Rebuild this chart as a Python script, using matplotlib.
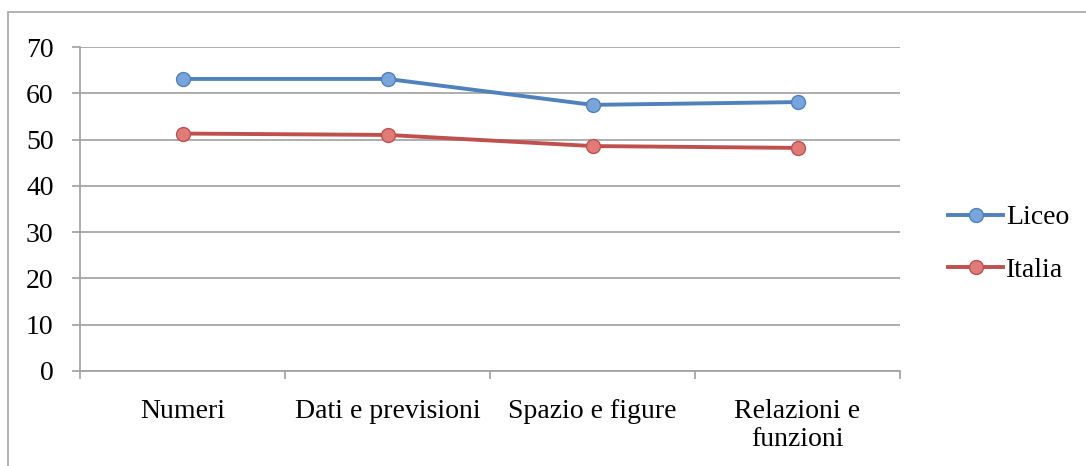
import matplotlib
matplotlib.use("Agg")
import matplotlib.pyplot as plt
from matplotlib.patches import Rectangle
from matplotlib.lines import Line2D

categories = ["Numeri", "Dati e previsioni", "Spazio e figure", "Relazioni e\nfunzioni"]
liceo = [63.1, 63.1, 57.5, 58.1]
italia = [51.3, 51.0, 48.6, 48.2]
yticks = [0, 10, 20, 30, 40, 50, 60, 70]

plt.rcParams['font.family'] = ['Liberation Serif', 'DejaVu Serif']

W, H = 1086, 466
fig = plt.figure(figsize=(W / 100, H / 100), dpi=100)
ax = fig.add_axes([80 / W, 1 - 371 / H, 820 / W, 324 / H])

# outer frame
fig.patches.append(Rectangle((8 / W, -0.1), 1.2, 1 - 12 / H + 0.1, transform=fig.transFigure,
                             fill=False, edgecolor='#A6A6A6', linewidth=1.2))

x = list(range(len(categories)))
blue = '#4F81BD'
red = '#C0504D'
style = dict(lw=2.8, marker='o', ms=10, mew=1, zorder=3)
ax.plot(x, liceo, color=blue, mfc='#79A5DD', mec=blue, **style)
ax.plot(x, italia, color=red, mfc='#E07B78', mec=red, **style)

ax.set_xlim(-0.5, len(categories) - 0.5)
ax.set_ylim(0, 70)
ax.set_yticks(yticks)
ax.set_yticklabels([str(v) for v in yticks], fontsize=20)
ax.yaxis.grid(True, color='#A0A0A0', lw=1.2)
ax.set_axisbelow(True)

ax.set_xticks([i - 0.5 for i in range(len(categories) + 1)])
ax.set_xticklabels([])
ax.set_xticks(x, minor=True)
ax.set_xticklabels(categories, minor=True, fontsize=20, linespacing=1.15)
ax.tick_params(axis='x', which='minor', length=0, pad=20)
ax.tick_params(axis='x', which='major', length=6, color='#A0A0A0', width=1.2)
ax.tick_params(axis='y', length=6, color='#A0A0A0', width=1.2, pad=13)

for s in ['top', 'right']:
    ax.spines[s].set_visible(False)
for s in ['left', 'bottom']:
    ax.spines[s].set_color('#A0A0A0')
    ax.spines[s].set_linewidth(1.2)

handles = [Line2D([], [], color=blue, lw=2.8, marker='o', ms=10, mfc='#79A5DD', mec=blue),
           Line2D([], [], color=red, lw=2.8, marker='o', ms=10, mfc='#E07B78', mec=red)]
fig.legend(handles, ['Liceo', 'Italia'], loc='center left', bbox_to_anchor=(934 / W, 1 - 244 / H),
           frameon=False, fontsize=20, handlelength=2.0, handletextpad=0.1, labelspacing=0.98,
           borderpad=0)

fig.savefig('out.png', dpi=100)
